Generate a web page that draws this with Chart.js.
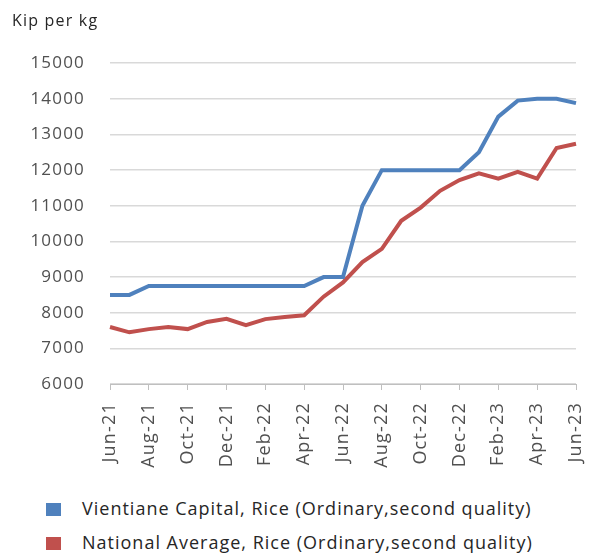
<!DOCTYPE html>
<html>
<head>
<meta charset="utf-8">
<script src="https://cdn.jsdelivr.net/npm/chart.js@4.4.0/dist/chart.umd.min.js"></script>
<style>
  html, body { margin: 0; padding: 0; background: #fff; }
  #wrap { position: relative; width: 597px; height: 555px; font-family: "Open Sans", sans-serif; }
  #box { position: absolute; left: 0; top: 0; width: 597px; height: 470px; }
  .leg { position: absolute; left: 46px; font-size: 18px; letter-spacing: 1px; color: #262626; line-height: 20px; white-space: nowrap; }
  .leg span { display: inline-block; width: 15px; height: 13px; margin-right: 21px; vertical-align: -1px; }
</style>
</head>
<body>
<div id="wrap">
  <div id="box"><canvas id="myChart"></canvas></div>
  <div class="leg" style="top:498px"><span style="background:#4F81BD"></span>Vientiane Capital, Rice (Ordinary,second quality)</div>
  <div class="leg" style="top:532px"><span style="background:#C0504D"></span>National Average, Rice (Ordinary,second quality)</div>
</div>
<script>
var months = ['Jun-21','Jul-21','Aug-21','Sep-21','Oct-21','Nov-21','Dec-21',
  'Jan-22','Feb-22','Mar-22','Apr-22','May-22','Jun-22','Jul-22','Aug-22','Sep-22','Oct-22','Nov-22','Dec-22',
  'Jan-23','Feb-23','Mar-23','Apr-23','May-23','Jun-23'];

var vientiane = [8500, 8500, 8750, 8750, 8750, 8750, 8750,
  8750, 8750, 8750, 8750, 9000, 9000, 11000, 12000, 12000, 12000, 12000, 12000,
  12500, 13500, 13950, 14000, 14000, 13880];

var national = [7600, 7450, 7540, 7600, 7540, 7740, 7830,
  7650, 7820, 7880, 7930, 8450, 8850, 9420, 9790, 10580, 10950, 11420, 11720,
  11910, 11760, 11950, 11760, 12620, 12740];

var textColor = '#505050';

// spacing a bit wider like the original text
var spacing = {
  id: 'spacing',
  beforeUpdate: function(c) { c.ctx.letterSpacing = '1.2px'; },
  beforeDraw: function(c) { c.ctx.letterSpacing = '1.2px'; }
};

const ctx = document.getElementById('myChart');
chart = new Chart(ctx, {
  type: 'line',
  data: {
    labels: months,
    datasets: [{
      label: 'Vientiane Capital, Rice (Ordinary,second quality)',
      data: vientiane,
      borderWidth: 4,
      borderColor: '#4F81BD',
      pointRadius: 0,
      tension: 0
    }, {
      label: 'National Average, Rice (Ordinary,second quality)',
      data: national,
      borderWidth: 4,
      borderColor: '#C0504D',
      pointRadius: 0,
      tension: 0
    }]
  },
  plugins: [spacing],
  options: {
    responsive: true,
    maintainAspectRatio: false,
    animation: false,
    layout: { padding: { left: 12, right: 0, top: 8, bottom: 0 } },
    plugins: {
      legend: { display: false },
      tooltip: { enabled: false },
      title: {
        display: true,
        text: 'Kip per kg',
        align: 'start',
        color: '#262626',
        font: { family: 'Open Sans', size: 16, weight: 'normal' },
        padding: { top: 4, bottom: 32 }
      }
    },
    scales: {
      x: {
        offset: false,
        afterFit: function(s) {
          s.height = 86;
          s.paddingLeft = 0;
          s.paddingRight = 21;
        },
        grid: { drawOnChartArea: false, drawTicks: true, tickLength: 6, color: '#bfbfbf' },
        border: { display: true, color: '#bfbfbf' },
        ticks: {
          autoSkip: false,
          maxRotation: 90,
          minRotation: 90,
          color: textColor,
          font: { family: 'Open Sans', size: 18 },
          padding: 12,
          callback: function(v, i) { return i % 2 == 0 ? months[i] : null; }
        }
      },
      y: {
        min: 6000,
        max: 15000,
        afterFit: function(s) { s.width = 98; },
        grid: { color: '#d9d9d9', lineWidth: 1.5, drawTicks: false },
        border: { display: false },
        ticks: {
          stepSize: 1000,
          color: textColor,
          padding: 25,
          font: { family: 'Open Sans', size: 17 },
          callback: function(v) { return String(v); }
        }
      }
    }
  }
});
</script>
</body>
</html>
